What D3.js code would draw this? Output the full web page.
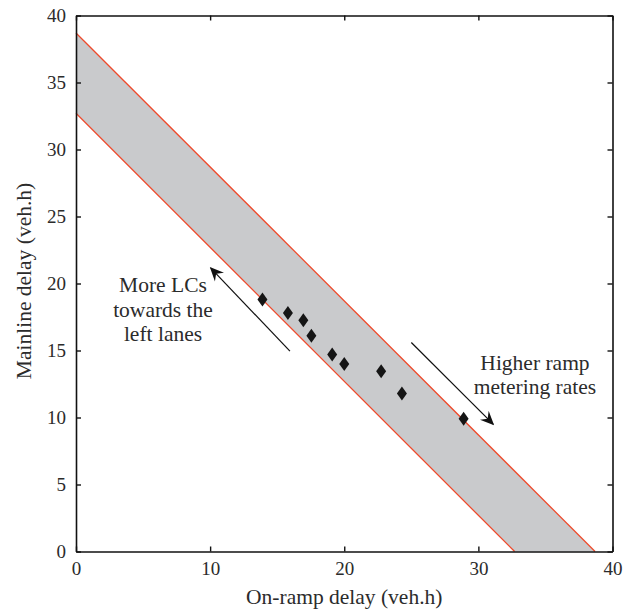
<!DOCTYPE html>
<html>
<head>
<meta charset="utf-8">
<script src="https://cdn.jsdelivr.net/npm/d3@7"></script>
<style>
  body { margin: 0; background: #fff; }
  text { font-family: "Liberation Serif", "DejaVu Serif", serif; fill: #2b2b2b; }
</style>
</head>
<body>
<div class="chart"></div>
<script>
// measured points (on-ramp delay, mainline delay)
var onRampDelay = [13.9, 15.8, 16.95, 17.55, 19.1, 20.0, 22.75, 24.3, 28.9];
var mainlineDelay = [18.8, 17.8, 17.25, 16.1, 14.7, 14.0, 13.45, 11.8, 9.9];
// band edges: y = intercept - x
var bandUpper = 38.7;
var bandLower = 32.7;
var xTicks = [0, 10, 20, 30, 40];
var yTicks = [0, 5, 10, 15, 20, 25, 30, 35, 40];
var leftNote = ['More LCs', 'towards the', 'left lanes'];
var rightNote = ['Higher ramp', 'metering rates'];

function drawChart() {
    var width = 633, height = 612;
    var margin = {left: 76, right: 20.5, top: 15.5, bottom: 60.5};

    var svg = d3.select('.chart')
        .append('svg')
        .attr('width', width)
        .attr('height', height);

    var x = d3.scaleLinear().domain([0, 40]).range([margin.left, width - margin.right]);
    var y = d3.scaleLinear().domain([0, 40]).range([height - margin.bottom, margin.top]);

    // grey band between the two red lines
    var band = [[0, bandUpper], [bandUpper, 0], [bandLower, 0], [0, bandLower]];
    svg.append('path')
        .attr('d', d3.line().x(function(d) { return x(d[0]); }).y(function(d) { return y(d[1]); })(band) + 'Z')
        .attr('fill', '#c9cacc');

    [bandUpper, bandLower].forEach(function(c) {
        svg.append('line')
            .attr('x1', x(0)).attr('y1', y(c))
            .attr('x2', x(c)).attr('y2', y(0))
            .attr('stroke', '#ee4a2c')
            .attr('stroke-width', 1.3);
    });

    // axes, ticks pointing inward on all four sides
    var tick = -5;
    svg.append('g')
        .attr('transform', 'translate(0,' + y(0) + ')')
        .call(d3.axisBottom(x).tickValues(xTicks).tickSizeInner(tick).tickSizeOuter(0).tickPadding(10));
    svg.append('g')
        .attr('transform', 'translate(0,' + y(40) + ')')
        .call(d3.axisTop(x).tickValues(xTicks).tickSizeInner(tick).tickSizeOuter(0).tickFormat(''));
    svg.append('g')
        .attr('transform', 'translate(' + x(0) + ',0)')
        .call(d3.axisLeft(y).tickValues(yTicks).tickSizeInner(tick).tickSizeOuter(0).tickPadding(10));
    svg.append('g')
        .attr('transform', 'translate(' + x(40) + ',0)')
        .call(d3.axisRight(y).tickValues(yTicks).tickSizeInner(tick).tickSizeOuter(0).tickFormat(''));

    svg.selectAll('.domain').attr('stroke', '#111').attr('stroke-width', 1.6);
    svg.selectAll('.tick line').attr('stroke', '#111').attr('stroke-width', 1.4);
    svg.selectAll('.tick text')
        .style('font-size', '19px')
        .style('font-family', '"Liberation Serif", serif')
        .attr('fill', '#2b2b2b');

    // axis titles
    svg.append('text')
        .attr('x', (x(0) + x(40)) / 2)
        .attr('y', 604)
        .attr('text-anchor', 'middle')
        .style('font-size', '21.5px')
        .text('On-ramp delay (veh.h)');
    svg.append('text')
        .attr('transform', 'translate(31,281) rotate(-90)')
        .attr('text-anchor', 'middle')
        .style('font-size', '21.5px')
        .text('Mainline delay (veh.h)');

    // arrows
    svg.append('defs').append('marker')
        .attr('id', 'head')
        .attr('viewBox', '0 0 10 10')
        .attr('refX', 9).attr('refY', 5)
        .attr('markerWidth', 14).attr('markerHeight', 14)
        .attr('markerUnits', 'userSpaceOnUse')
        .attr('orient', 'auto')
        .append('path')
        .attr('d', 'M0,0.5 L10,5 L0,9.5 L3.5,5 Z')
        .attr('fill', '#111');

    svg.append('line')
        .attr('x1', x(15.95)).attr('y1', y(14.95))
        .attr('x2', x(10.05)).attr('y2', y(21.15))
        .attr('stroke', '#111').attr('stroke-width', 1.2)
        .attr('marker-end', 'url(#head)');
    svg.append('line')
        .attr('x1', x(25.0)).attr('y1', y(15.6))
        .attr('x2', x(31.1)).attr('y2', y(9.5))
        .attr('stroke', '#111').attr('stroke-width', 1.2)
        .attr('marker-end', 'url(#head)');

    // notes
    svg.append('g').selectAll('text')
        .data(leftNote)
        .enter()
        .append('text')
        .attr('x', 163)
        .attr('y', function(d, i) { return 292 + i * 24.5; })
        .attr('text-anchor', 'middle')
        .style('font-size', '21.5px')
        .text(function(d) { return d; });
    svg.append('g').selectAll('text')
        .data(rightNote)
        .enter()
        .append('text')
        .attr('x', 535)
        .attr('y', function(d, i) { return 369.5 + i * 24.5; })
        .attr('text-anchor', 'middle')
        .style('font-size', '21.5px')
        .text(function(d) { return d; });

    // diamonds
    svg.append('g').selectAll('path')
        .data(onRampDelay)
        .enter()
        .append('path')
        .attr('d', 'M0,-7 L5,0 L0,7 L-5,0 Z')
        .attr('transform', function(d, i) { return 'translate(' + x(d) + ',' + y(mainlineDelay[i]) + ')'; })
        .attr('fill', '#151515');
}
drawChart();
</script>
</body>
</html>
